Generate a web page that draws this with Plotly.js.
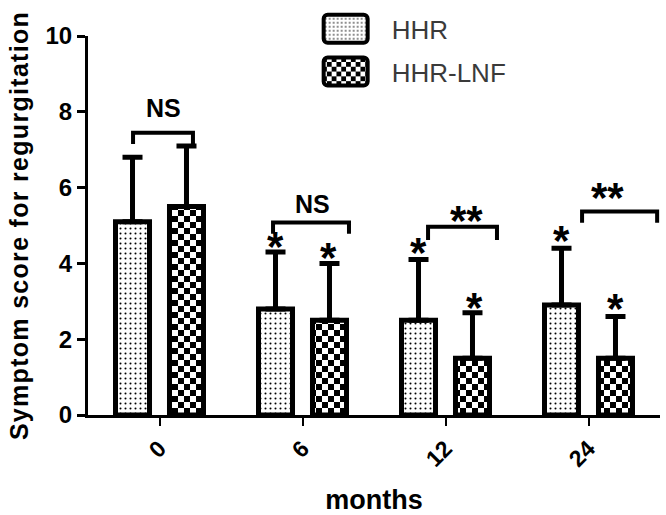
<!DOCTYPE html>
<html>
<head>
<meta charset="utf-8">
<script src="https://cdn.plot.ly/plotly-3.0.1.min.js"></script>
<style>
  html, body { margin: 0; padding: 0; background: #fff; }
  #graph { width: 666px; height: 515px; }
</style>
</head>
<body>
<div id="graph"></div>
<script>
let MONTHS = ["0", "6", "12", "24"]
let HHR = [5.1, 2.8, 2.5, 2.9]
let HHR_SD = [1.7, 1.5, 1.6, 1.5]
let HHR_LNF = [5.5, 2.5, 1.5, 1.5]
let HHR_LNF_SD = [1.6, 1.5, 1.2, 1.1]

// significance brackets between the two bars of a group
let BRACKET_X0 = [-0.185, 0.794, 1.878, 2.955]
let BRACKET_X1 = [0.234, 1.325, 2.36, 3.48]
let BRACKET_Y = [7.45, 5.08, 4.97, 5.37]
let BRACKET_DROP = [0.3, 0.3, 0.35, 0.3]
let BRACKET_TEXT = ["NS", "NS", "**", "**"]
let BRACKET_TEXT_X = [0.025, 1.07, 2.15, 3.13]
let BRACKET_TEXT_Y = [8.1, 5.58, 5.24, 5.84]

// single stars versus baseline, above each error bar
let STAR_X = [0.81, 1.18, 1.81, 2.2, 2.81, 3.19]
let STAR_Y = [4.58, 4.29, 4.42, 2.97, 4.74, 2.95]

let FONT = "Liberation Sans, Arial, sans-serif"
let GRAPH = "graph"

function make_traces() {
  let hhr = {
    x: MONTHS,
    y: HHR,
    type: "bar",
    name: "HHR",
    legendgroup: "a",
    marker: {
      color: "white",
      line: { color: "black", width: 5 },
      pattern: { shape: ".", size: 5, solidity: 0.13, fgcolor: "black", bgcolor: "white" }
    },
    error_y: { type: "data", symmetric: false, array: HHR_SD, arrayminus: [0, 0, 0, 0],
      color: "black", thickness: 5, width: 10 }
  }
  let lnf = {
    x: MONTHS,
    y: HHR_LNF,
    type: "bar",
    name: "HHR-LNF",
    legendgroup: "b",
    marker: {
      color: "white",
      line: { color: "black", width: 5 },
      pattern: { shape: "+", size: 12, solidity: 0.5, fgcolor: "black", bgcolor: "white" }
    },
    error_y: { type: "data", symmetric: false, array: HHR_LNF_SD, arrayminus: [0, 0, 0, 0],
      color: "black", thickness: 5, width: 10 }
  }
  return [hhr, lnf]
}

function make_shapes() {
  let shapes = []
  for (let i = 0; i < BRACKET_X0.length; i++) {
    let x0 = BRACKET_X0[i], x1 = BRACKET_X1[i], y = BRACKET_Y[i], d = BRACKET_DROP[i]
    shapes.push({
      type: "path", xref: "x", yref: "y",
      path: "M" + x0 + "," + (y - d) + " L" + x0 + "," + y + " L" + x1 + "," + y + " L" + x1 + "," + (y - d),
      line: { color: "black", width: 4 }
    })
  }
  return shapes
}

function make_annotations() {
  let annotations = []
  for (let i = 0; i < BRACKET_TEXT.length; i++) {
    let star = BRACKET_TEXT[i] == "**"
    annotations.push({
      x: BRACKET_TEXT_X[i], y: BRACKET_TEXT_Y[i], xref: "x", yref: "y",
      text: BRACKET_TEXT[i], showarrow: false, yanchor: "middle",
      yshift: star ? -4 : 0,
      font: { family: FONT, size: star ? 42 : 25, color: "black", weight: "bold" }
    })
  }
  for (let i = 0; i < STAR_X.length; i++) {
    annotations.push({
      x: STAR_X[i], y: STAR_Y[i], xref: "x", yref: "y",
      text: "*", showarrow: false, yanchor: "middle", yshift: -5,
      font: { family: FONT, size: 42, color: "black", weight: "bold" }
    })
  }
  return annotations
}

// plotly has no checkerboard pattern: swap the tile of the "+" pattern
function use_checkerboard(gd) {
  let ns = "http://www.w3.org/2000/svg"
  gd.querySelectorAll("pattern").forEach(function (p) {
    if (p.querySelector("circle")) return
    while (p.firstChild) p.removeChild(p.firstChild)
    p.setAttribute("width", 12)
    p.setAttribute("height", 12)
    let cells = [[0, 0, 12, 12, "white"], [0, 0, 6, 6, "black"], [6, 6, 6, 6, "black"]]
    cells.forEach(function (c) {
      let r = document.createElementNS(ns, "rect")
      r.setAttribute("x", c[0]); r.setAttribute("y", c[1])
      r.setAttribute("width", c[2]); r.setAttribute("height", c[3])
      r.setAttribute("fill", c[4])
      p.appendChild(r)
    })
  })
  // wider rounded legend boxes
  gd.querySelectorAll(".legend .legendpoints path").forEach(function (el) {
    el.setAttribute("d", "M-28,-14H8A4,4 0 0 1 12,-10V10A4,4 0 0 1 8,14H-28A4,4 0 0 1 -32,10V-10A4,4 0 0 1 -28,-14Z")
    el.style.strokeWidth = "4px"
  })
  // the original axis title is set with wide letter spacing
  let ytitle = gd.querySelector(".ytitle")
  if (ytitle) ytitle.style.letterSpacing = "1.3px"
}

function show_chart() {
  let layout = {
    width: 666,
    height: 515,
    margin: { l: 88, r: 6, t: 35, b: 100 },
    paper_bgcolor: "white",
    plot_bgcolor: "white",
    barmode: "group",
    bargap: 0.245,
    bargroupgap: 0.37,
    showlegend: true,
    legend: {
      x: 0.405, y: 1.078, xanchor: "left", yanchor: "top",
      bgcolor: "rgba(0,0,0,0)",
      traceorder: "grouped",
      tracegroupgap: 6,
      itemwidth: 62,
      font: { family: FONT, size: 26, color: "#3a3a3a" }
    },
    xaxis: {
      type: "category",
      showline: true, linecolor: "black", linewidth: 3,
      ticks: "outside", ticklen: 8, tickwidth: 2, tickcolor: "black",
      tickangle: -45,
      tickfont: { family: FONT, size: 23, color: "black", weight: "bold" },
      showgrid: false, zeroline: false,
      title: { text: "months", standoff: 22, font: { family: FONT, size: 27, color: "black", weight: "bold" } }
    },
    yaxis: {
      range: [0, 10],
      tickvals: [0, 2, 4, 6, 8, 10],
      showline: true, linecolor: "black", linewidth: 3,
      ticks: "outside", ticklen: 8, tickwidth: 3, tickcolor: "black",
      tickfont: { family: FONT, size: 24, color: "black", weight: "bold" },
      showgrid: false, zeroline: false,
      title: { text: "Symptom score for regurgitation", standoff: 10, font: { family: FONT, size: 25, color: "black", weight: "bold" } }
    },
    shapes: make_shapes(),
    annotations: make_annotations()
  }
  Plotly.newPlot(GRAPH, make_traces(), layout, { staticPlot: true }).then(use_checkerboard)
}

show_chart()
</script>
</body>
</html>
